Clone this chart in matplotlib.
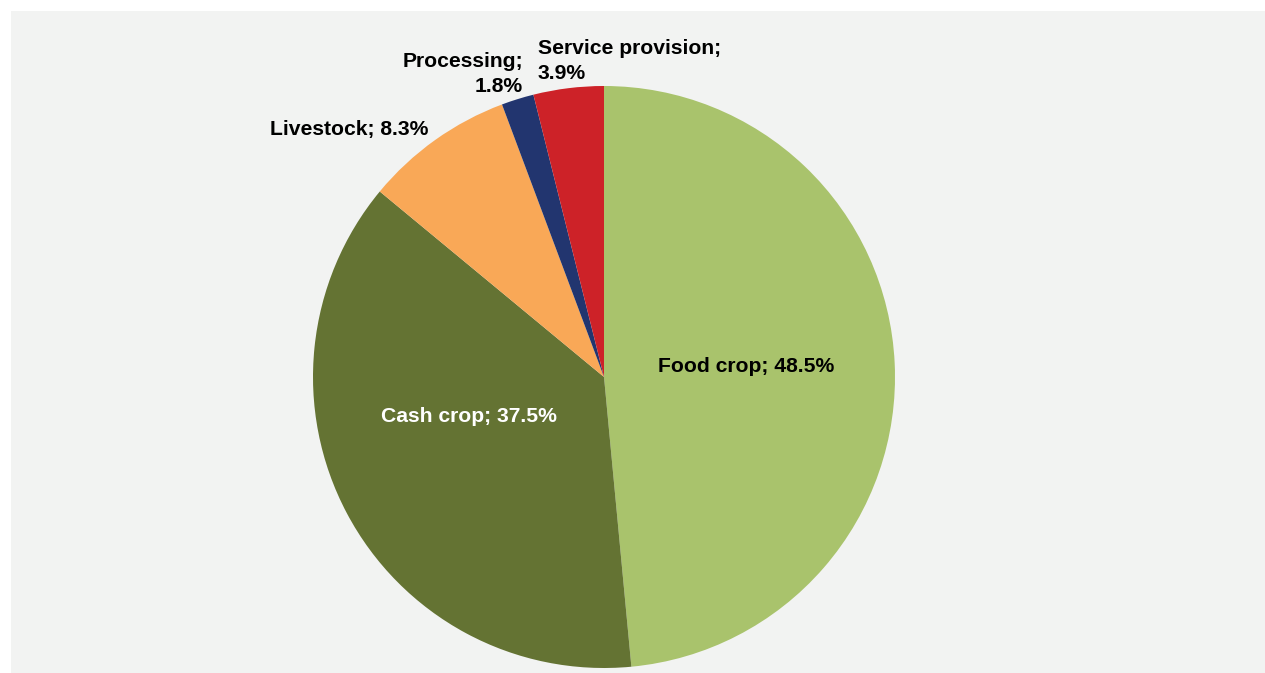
import matplotlib.pyplot as plt
from matplotlib.patches import Rectangle

plt.rcParams['font.family'] = ['Liberation Sans', 'DejaVu Sans']

activities = ['Food crop', 'Cash crop', 'Livestock', 'Processing', 'Service provision']
shares = [48.5, 37.5, 8.3, 1.8, 3.9]
colors = ['#a9c36c', '#647333', '#f9a857', '#22356f', '#cd2228']

W, H = 1265, 673
fig = plt.figure(figsize=(W / 100, H / 100), dpi=100)
fig.patch.set_facecolor('white')
ax = fig.add_axes([0, 0, 1, 1])

# grey panel behind the pie
ax.add_patch(Rectangle((11, -5), W, H - 6, facecolor='#f2f3f2', edgecolor='none', zorder=0))

ax.pie(shares, colors=colors, startangle=90, counterclock=False,
       center=(604, H - 377), radius=291, frame=True,
       wedgeprops=dict(linewidth=0, zorder=1))
ax.set_xlim(0, W)
ax.set_ylim(0, H)
ax.axis('off')

lbl = [f'{a}; {s}%' for a, s in zip(activities, shares)]
fs = 15.2
ax.text(746, H - 367, lbl[0], ha='center', va='center', fontsize=fs, fontweight='bold', color='black')
ax.text(469, H - 416, lbl[1], ha='center', va='center', fontsize=fs, fontweight='bold', color='white')
ax.text(428, H - 129, lbl[2], ha='right', va='center', fontsize=fs, fontweight='bold', color='black')
ax.text(523, H - 74, 'Processing;\n1.8%', ha='right', va='center', fontsize=fs, fontweight='bold',
        color='black', multialignment='right', linespacing=1.45)
ax.text(538, H - 61, 'Service provision;\n3.9%', ha='left', va='center', fontsize=fs, fontweight='bold',
        color='black', multialignment='left', linespacing=1.4)

fig.savefig('out.png', dpi=100, facecolor=fig.get_facecolor())
